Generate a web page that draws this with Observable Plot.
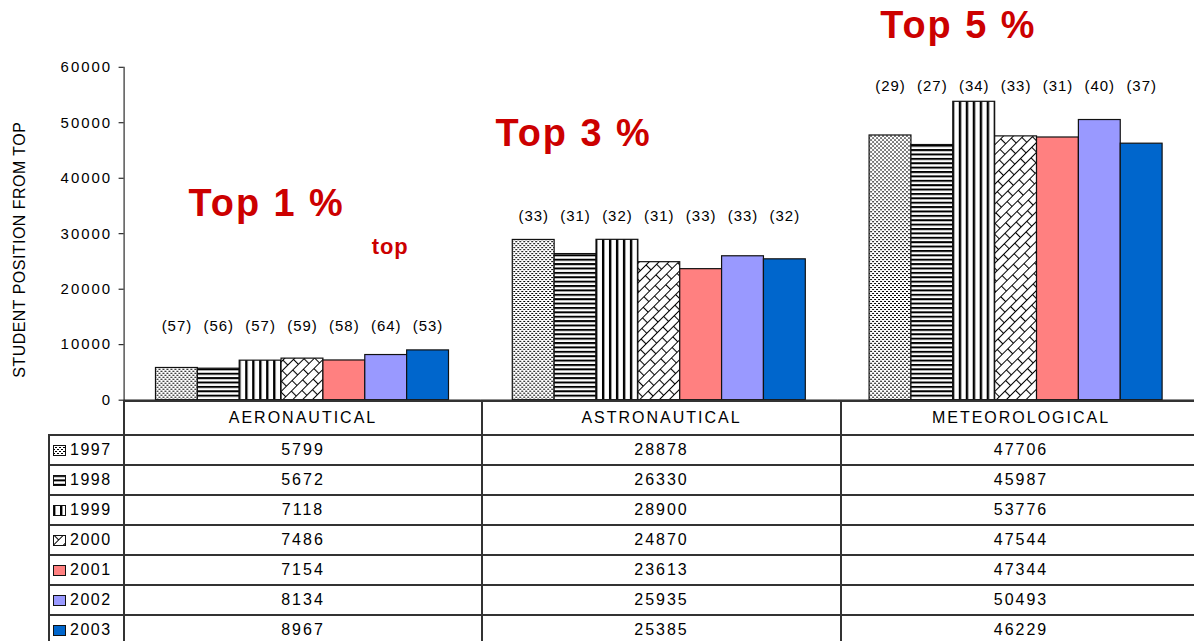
<!DOCTYPE html>
<html>
<head>
<meta charset="utf-8">
<script src="https://cdn.jsdelivr.net/npm/d3@7"></script>
<script src="https://cdn.jsdelivr.net/npm/@observablehq/plot@0.6"></script>
<style>
html, body { margin: 0; padding: 0; background: #fff; overflow: hidden; }
#wrap { position: relative; width: 1194px; height: 641px; overflow: hidden; font-family: "Liberation Sans", Arial, sans-serif; }
#chart { position: absolute; left: 0; top: 0; }
#chart svg { overflow: visible; }
#datatable { position: absolute; left: 48px; top: 400px; width: 1152px; border-collapse: collapse; table-layout: fixed; font-size: 16px; letter-spacing: 2px; color: #000; }
#datatable td { border: 2px solid #333; padding: 0; text-align: center; white-space: nowrap; overflow: hidden; }
#datatable tr { height: 30px; }
#datatable tr.head { height: 34px; }
#datatable td.blank { border-top: none; border-left: none; }
#datatable td.yr { text-align: left; padding-left: 3px; letter-spacing: 1.5px; }
#datatable td.yr svg { vertical-align: -1px; margin-right: 4px; }
</style>
</head>
<body>
<div id="wrap">
<svg width="0" height="0" style="position:absolute">
  <defs>
    <pattern id="p1997" patternUnits="userSpaceOnUse" width="4" height="4">
      <rect width="4" height="4" fill="#fff"/>
      <rect x="0" y="0" width="2" height="1" fill="#000"/>
      <rect x="2" y="2" width="2" height="1" fill="#000"/>
    </pattern>
    <pattern id="p1998" patternUnits="userSpaceOnUse" width="4" height="4.4">
      <rect width="4" height="4.4" fill="#fff"/>
      <rect x="0" y="0" width="4" height="2" fill="#000"/>
    </pattern>
    <pattern id="p1999" patternUnits="userSpaceOnUse" width="7" height="4">
      <rect width="7" height="4" fill="#fff"/>
      <rect x="0" y="0" width="2.4" height="4" fill="#000"/>
    </pattern>
    <pattern id="p2000" patternUnits="userSpaceOnUse" width="16" height="14" patternTransform="rotate(-45)">
      <rect width="16" height="14" fill="#fff"/>
      <path d="M0,0.5H16M0,7.5H16M0.5,0V7M8.5,7V14" stroke="#000" stroke-width="1.1" fill="none"/>
    </pattern>
  </defs>
</svg>
<div id="chart"></div>
</div>
<script>
// ---- data ----
const categories = ["AERONAUTICAL", "ASTRONAUTICAL", "METEOROLOGICAL"];
const years = ["1997", "1998", "1999", "2000", "2001", "2002", "2003"];
const aeronautical = [5799, 5672, 7118, 7486, 7154, 8134, 8967];
const astronautical = [28878, 26330, 28900, 24870, 23613, 25935, 25385];
const meteorological = [47706, 45987, 53776, 47544, 47344, 50493, 46229];
const aeroRanks = ["(57)", "(56)", "(57)", "(59)", "(58)", "(64)", "(53)"];
const astroRanks = ["(33)", "(31)", "(32)", "(31)", "(33)", "(33)", "(32)"];
const meteoRanks = ["(29)", "(27)", "(34)", "(33)", "(31)", "(40)", "(37)"];
const yTicks = [0, 10000, 20000, 30000, 40000, 50000, 60000];
const topLabels = ["Top 1 %", "Top 3 %", "Top 5 %"];
const smallLabel = "top";
const yTitle = "STUDENT POSITION FROM TOP";

// ---- styles ----
const fills = ["url(#p1997)", "url(#p1998)", "url(#p1999)", "url(#p2000)", "#ff8080", "#9999ff", "#0066cc"];
const red = "#cc0000";

const series = [aeronautical, astronautical, meteorological];
const ranks = [aeroRanks, astroRanks, meteoRanks];
const rows = categories.flatMap((c, i) => years.map((y, j) => ({
  cat: c, year: y, value: series[i][j], rank: ranks[i][j], top: d3.max(series[i])
})));

const annot = (i, t, dx, dy, size) => Plot.text([{ cat: categories[i], t }], {
  fx: "cat", text: "t", frameAnchor: "top", lineAnchor: "middle", dx, dy,
  fontSize: size, fontWeight: "bold", fill: red
});

const chart = Plot.plot({
  width: 1198,
  height: 402,
  marginTop: 67,
  marginBottom: 1,
  marginLeft: 123,
  marginRight: 0,
  style: { fontFamily: "'Liberation Sans', Arial, sans-serif", fontSize: "15px", background: "transparent", color: "#000" },
  fx: { domain: categories, padding: 0, axis: null },
  x: { domain: years, paddingInner: 0, paddingOuter: 0.7, axis: null },
  y: {
    domain: [0, 60000], ticks: yTicks, tickSize: 5, tickPadding: 7,
    tickFormat: d => String(d), line: true, label: null
  },
  color: { type: "ordinal", domain: years, range: fills },
  marks: [
    Plot.barY(rows, { fx: "cat", x: "year", y: "value", fill: "year", stroke: "#111", strokeWidth: 1.2 }),
    Plot.ruleY([0], { stroke: "#222", strokeWidth: 1.5 }),
    Plot.text(rows.filter(d => d.cat !== "METEOROLOGICAL"), { fx: "cat", x: "year", y: "top", text: "rank", dy: -24, fontSize: 15 }),
    Plot.text(rows.filter(d => d.cat === "METEOROLOGICAL"), { fx: "cat", x: "year", y: "top", text: "rank", dy: -16, fontSize: 15 }),
    Plot.text([{ cat: categories[0], t: yTitle }], { fx: "cat", text: "t", frameAnchor: "left", textAnchor: "middle", lineAnchor: "middle", rotate: -90, dx: -105, dy: 16, fontSize: 16 }),
    annot(0, topLabels[0], -36, 137, 38),
    annot(1, topLabels[1], -86, 67, 38),
    annot(2, topLabels[2], -58, -42, 38),
    annot(0, smallLabel, 88, 180, 22)
  ]
});
document.getElementById("chart").appendChild(chart);

// letter-spacing to mimic the stretched lettering of the original
d3.select(chart).selectAll("text").each(function () {
  const s = this.textContent;
  let ls = null;
  if (topLabels.includes(s)) ls = "2px";
  else if (s === smallLabel) ls = "1px";
  else if (s === yTitle) ls = "0.5px";
  else if (/^\(\d+\)$/.test(s)) ls = "1px";
  else if (/^\d+$/.test(s)) ls = "2px";
  if (ls) this.style.letterSpacing = ls;
});

// ---- data table (legend) ----
const table = document.createElement("table");
table.id = "datatable";
const colgroup = document.createElement("colgroup");
[75, 358, 359, 360].forEach(w => { const c = document.createElement("col"); c.style.width = w + "px"; colgroup.appendChild(c); });
table.appendChild(colgroup);
const head = document.createElement("tr");
head.className = "head";
const blank = document.createElement("td"); blank.className = "blank"; head.appendChild(blank);
categories.forEach(c => { const td = document.createElement("td"); td.textContent = c; head.appendChild(td); });
table.appendChild(head);
years.forEach((y, j) => {
  const tr = document.createElement("tr");
  const td0 = document.createElement("td");
  td0.className = "yr";
  td0.innerHTML = `<svg width="13" height="11"><rect x="0.5" y="0.5" width="12" height="10" fill="${fills[j]}" stroke="#111" stroke-width="1"/></svg>${y}`;
  tr.appendChild(td0);
  series.forEach(s => { const td = document.createElement("td"); td.textContent = s[j]; tr.appendChild(td); });
  table.appendChild(tr);
});
document.getElementById("wrap").appendChild(table);
</script>
</body>
</html>
